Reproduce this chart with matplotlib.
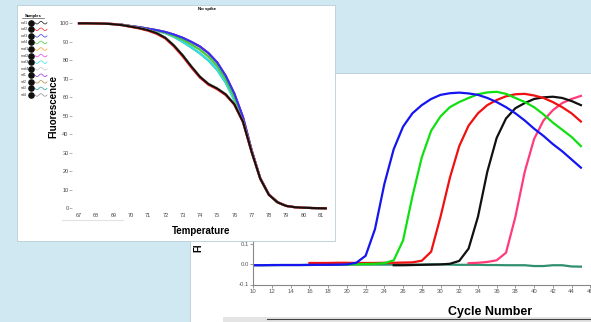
import numpy as np
import matplotlib
matplotlib.use("Agg")
import matplotlib.pyplot as plt
from matplotlib.patches import Rectangle

plt.rcParams['font.family'] = ['Liberation Sans', 'DejaVu Sans']

W, H = 591, 322
BG = '#cfe8f1'

# ---- melt curve data (temperature vs fluorescence) ----
temps = [67, 67.5, 68, 68.5, 69, 69.5, 70, 70.5, 71, 71.5, 72, 72.5, 73, 73.5, 74,
         74.5, 75, 75.5, 76, 76.5, 77, 77.5, 78, 78.5, 79, 79.5, 80, 80.5, 81, 81.3]
melt_a1 = [100.0, 100.0, 99.9, 99.8, 99.5, 99.0, 98.2, 97.4, 96.3, 94.7, 92.2, 88.0, 82.8, 76.8, 71.2,
           67.2, 64.8, 61.6, 56.3, 46.8, 30.5, 16.0, 7.3, 3.2, 1.3, 0.6, 0.3, 0.15, 0.05, 0.0]
melt_a2 = [100.0, 100.0, 99.9, 99.8, 99.5, 99.0, 98.1, 97.2, 96.0, 94.3, 91.8, 87.5, 82.2, 76.2, 70.7,
           66.8, 64.4, 61.2, 56.0, 46.6, 30.5, 16.1, 7.4, 3.3, 1.3, 0.6, 0.3, 0.15, 0.05, 0.0]
melt_b1 = [100.0, 100.0, 99.9, 99.8, 99.6, 99.2, 98.5, 97.9, 97.1, 96.3, 95.3, 93.9, 92.2, 90.0, 87.5,
           83.9, 78.9, 71.6, 62.0, 49.3, 31.5, 16.3, 7.5, 3.3, 1.3, 0.6, 0.3, 0.15, 0.05, 0.0]
melt_b2 = [100.0, 100.0, 99.9, 99.8, 99.6, 99.2, 98.5, 97.8, 97.0, 96.1, 95.0, 93.3, 91.2, 88.6, 85.8,
           82.0, 77.0, 69.8, 60.2, 48.4, 31.2, 16.2, 7.4, 3.3, 1.3, 0.6, 0.3, 0.15, 0.05, 0.0]
melt_b3 = [100.0, 100.0, 99.9, 99.8, 99.6, 99.2, 98.4, 97.7, 96.9, 95.9, 94.7, 92.7, 90.0, 87.0, 83.8,
           79.9, 74.9, 67.9, 58.4, 47.6, 31.0, 16.2, 7.4, 3.3, 1.3, 0.6, 0.3, 0.15, 0.05, 0.0]

sample_labels = ['naf1', 'naf2', 'naf3', 'naf4', 'maf1', 'maf2', 'maf3', 'maf4',
                 'sd1', 'sd2', 'sd3', 'sd4']
sample_colors = ['#111111', '#ee2222', '#3333ee', '#44cc44', '#f0a020', '#e040e0',
                 '#30e0e0', '#c8c8c8', '#9030e0', '#b08840', '#20a0a0', '#909090']
sample_curve = ['a1', 'a2', 'b1', 'b2', 'b2', 'b1', 'b3', 'a1', 'b1', 'a1', 'b3', 'a1']
curves = {'a1': melt_a1, 'a2': melt_a2, 'b1': melt_b1, 'b2': melt_b2, 'b3': melt_b3}

# ---- amplification data (cycle vs normalised fluorescence) ----
blue_cyc = list(range(10, 46))
blue_val = [-0.006, -0.006, -0.005, -0.005, -0.005, -0.005, -0.004, -0.004, -0.004, -0.003, -0.002,
            0.006, 0.04, 0.17, 0.39, 0.56, 0.67, 0.735, 0.775, 0.805, 0.825, 0.833, 0.836, 0.832,
            0.825, 0.81, 0.79, 0.765, 0.735, 0.70, 0.66, 0.625, 0.585, 0.55, 0.51, 0.47]
green_cyc = list(range(20, 46))
green_val = [-0.002, -0.001, 0.0, 0.001, 0.004, 0.018, 0.115, 0.33, 0.52, 0.65, 0.72, 0.765, 0.79,
             0.81, 0.828, 0.837, 0.84, 0.83, 0.81, 0.79, 0.765, 0.73, 0.69, 0.655, 0.62, 0.575]
red_cyc = list(range(16, 46))
red_val = [0.005, 0.005, 0.005, 0.006, 0.006, 0.005, 0.005, 0.005, 0.006, 0.006, 0.007, 0.008,
           0.016, 0.06, 0.23, 0.42, 0.575, 0.675, 0.735, 0.775, 0.80, 0.818, 0.828, 0.83, 0.822,
           0.81, 0.79, 0.765, 0.735, 0.695]
black_cyc = list(range(25, 46))
black_val = [-0.006, -0.006, -0.005, -0.004, -0.003, -0.002, 0.001, 0.015, 0.075, 0.23, 0.45,
             0.615, 0.71, 0.76, 0.785, 0.805, 0.813, 0.816, 0.81, 0.795, 0.775]
pink_cyc = list(range(33, 46))
pink_val = [0.004, 0.006, 0.01, 0.018, 0.055, 0.23, 0.45, 0.61, 0.70, 0.75, 0.785, 0.805, 0.82]
teal_cyc = list(range(10, 46))
teal_val = [-0.006, -0.006, -0.006, -0.005, -0.005, -0.005, -0.005, -0.004, -0.004, -0.004,
            -0.003, -0.003, -0.003, -0.003, -0.003, -0.003, -0.003, -0.003, -0.003, -0.002,
            -0.002, -0.003, -0.004, -0.004, -0.004, -0.005, -0.005, -0.006, -0.006, -0.006,
            -0.010, -0.010, -0.006, -0.006, -0.012, -0.013]

amp_series = [(teal_cyc, teal_val, '#2f8f6f'), (pink_cyc, pink_val, '#ff3c7a'),
              (black_cyc, black_val, '#111111'), (red_cyc, red_val, '#f01010'),
              (green_cyc, green_val, '#10e010'), (blue_cyc, blue_val, '#1515f0')]
amp_xticks = list(range(10, 48, 2))


def fx(px):
    return px / W


def fy(py):
    return 1 - py / H


def panel(x0, y0, x1, y1, z, fc='white', ec='#b8cdd5'):
    r = Rectangle((fx(x0), fy(y1)), fx(x1 - x0), (y1 - y0) / H, transform=fig.transFigure,
                  facecolor=fc, edgecolor=ec, linewidth=0.6, zorder=z)
    fig.add_artist(r)


fig = plt.figure(figsize=(W / 100, H / 100), dpi=100, facecolor=BG)

# back panel: amplification plot
panel(190, 73, 600, 330, 0.1)
panel(223, 317, 600, 330, 0.15, fc='#e4e4e4', ec='none')
fig.add_artist(plt.Line2D([fx(267), 1], [fy(319), fy(319)], transform=fig.transFigure,
                          color='#444444', lw=0.8, zorder=0.16))

# amp axes: x 10 at 253.3px, 9.36 px per cycle; y 0 at 264px, 205 px per unit
xpc, ypu = 9.36, 205.0
ax_amp = fig.add_axes([fx(253.3), fy(264 + 0.1 * ypu), fx(37 * xpc), 1.0 * ypu / H], zorder=0.2)
ax_amp.set_facecolor('none')
for x, y, c in amp_series:
    ax_amp.plot(x, y, color=c, lw=1.6, solid_joinstyle='round')
ax_amp.set_xlim(10, 47)
ax_amp.set_ylim(-0.1, 0.9)
ax_amp.set_xticks(amp_xticks)
ax_amp.set_yticks(np.round(np.arange(-0.1, 0.95, 0.1), 1))
ax_amp.yaxis.set_major_formatter(matplotlib.ticker.FormatStrFormatter('%.1f'))
ax_amp.spines[['top', 'right']].set_visible(False)
ax_amp.spines[['left', 'bottom']].set_color('#888888')
ax_amp.spines[['left', 'bottom']].set_linewidth(0.8)
ax_amp.tick_params(labelsize=4.3, labelcolor='#555555', color='#888888', length=2, width=0.6, pad=1)
# only the start of the y label peeks out below the front panel
fig.text(fx(198), fy(252), 'Fl', rotation=90, ha='center', va='bottom',
         fontsize=7, fontweight='bold', zorder=0.3)
fig.text(fx(490), fy(312), 'Cycle Number', ha='center', va='center',
         fontsize=9, fontweight='bold', zorder=0.3)

# front panel: melt curve plot
panel(17, 5, 335, 241, 0.5)
ax_melt = fig.add_axes([fx(72.1), fy(210.15), fx(14.9 * 17.26), 102 * 1.85 / H], zorder=1)
ax_melt.set_facecolor('none')
for lab, col, key in list(zip(sample_labels, sample_colors, sample_curve))[::-1]:
    if key.startswith('b'):
        ax_melt.plot(temps, curves[key], color=col, lw=1.5, clip_on=False)
for lab, col, key in list(zip(sample_labels, sample_colors, sample_curve))[::-1]:
    if key.startswith('a'):
        ax_melt.plot(temps, curves[key], color=col, lw=1.6 if col != '#111111' else 1.4,
                     clip_on=False)
ax_melt.set_xlim(66.6, 81.5)
ax_melt.set_ylim(-1, 101)
ax_melt.set_xticks(range(67, 82))
ax_melt.set_yticks(range(0, 101, 10))
for s in ax_melt.spines.values():
    s.set_visible(False)
ax_melt.tick_params(axis='y', labelsize=4, labelcolor='#444444', color='#999999',
                    length=2, width=0.5, pad=0.5)
ax_melt.tick_params(axis='x', labelsize=4, labelcolor='#444444', length=0, pad=2)
ax_melt.set_xlabel('Temperature', fontsize=7, fontweight='bold', labelpad=6)
fig.text(fx(53), fy(106), 'Fluorescence', rotation=90, ha='center', va='center',
         fontsize=7, fontweight='bold', zorder=2)

# overlay for title and sample legend (pixel coordinates)
ax_ov = fig.add_axes([0, 0, 1, 1], zorder=2)
ax_ov.set_xlim(0, W)
ax_ov.set_ylim(H, 0)
ax_ov.axis('off')
ax_ov.text(207, 9, 'No spike', ha='center', va='center', fontsize=3.2, fontweight='bold')
ax_ov.plot([62, 123], [220, 220], color='#e2e2e2', lw=0.8)
ax_ov.text(33, 15.5, 'Samples', ha='center', va='center', fontsize=3, fontweight='bold')
ax_ov.plot([22, 44], [17.6, 17.6], color='#333333', lw=0.4)
wx = np.linspace(35, 47, 25)
for i, (lab, col) in enumerate(zip(sample_labels, sample_colors)):
    yy = 22.7 + i * 6.57
    ax_ov.text(21, yy, lab, ha='left', va='center', fontsize=2.6, color='#333333')
    ax_ov.scatter([31], [yy], s=14, color='#111111', zorder=3)
    ax_ov.plot(wx, yy + 1.3 * np.sin((wx - 35) / 12 * 3 * np.pi), color=col, lw=0.5)

fig.savefig('out.png', dpi=100, facecolor=BG)
